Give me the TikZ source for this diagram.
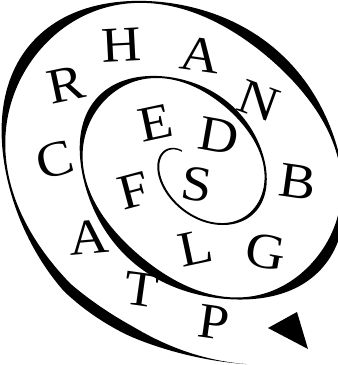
\documentclass[tikz,border=0pt]{standalone}
\usepackage{fontspec}
\setmainfont{Liberation Serif}[FakeStretch=1.1]

\begin{document}
\begin{tikzpicture}[
        x=1pt, y=1pt,
        letter/.style={font=\fontsize{50}{50}\selectfont, inner sep=0pt},
        declare function={
            ra(\t)=13.37*\t-11.5;
            rb(\t)=10.95*\t-16-20*max(0,\t-17.2);
            wd(\t)=min(1,(18.1-\t)/0.55)*(2+min(9,max(0,1.3*(\t-5.4)))*((1+cos(deg(4*(\t-0.1))))/2));
        }
    ]
    \useasboundingbox (0,0) rectangle (338,365);

    % Spiral
    \begin{scope}[shift={(192.8,196)}, rotate=-41]
        \fill plot[domain=2.6:18.1, samples=500, variable=\t]
            ({(ra(\t)+wd(\t)/2)*cos(deg(\t))}, {(rb(\t)+wd(\t)/2)*sin(deg(\t))})
            -- plot[domain=18.1:2.6, samples=500, variable=\t]
            ({(ra(\t)-wd(\t)/2)*cos(deg(\t))}, {(rb(\t)-wd(\t)/2)*sin(deg(\t))})
            -- cycle;
    \end{scope}

    % Letters
    \node[letter, rotate=3] (h) at (121.5,320) {H};
    \node[letter, rotate=-8] (a1) at (200,310) {A};
    \node[letter, rotate=-20] (n) at (259,264) {N};
    \node[letter, rotate=12] (r) at (66,280) {R};
    \node[letter, rotate=12] (e) at (156,242) {E};
    \node[letter, rotate=-10] (d) at (219,229) {D};
    \node[letter, rotate=15] (c) at (55,205) {C};
    \node[letter, rotate=-8] (s) at (197,181) {S};
    \node[letter, rotate=-8] (b) at (298,183) {B};
    \node[letter, rotate=15] (f) at (134,174) {F};
    \node[letter, rotate=5] (a2) at (89,128) {A};
    \node[letter, rotate=12] (l) at (196,117) {L};
    \node[letter, rotate=-10] (g) at (266,113) {G};
    \node[letter, rotate=-8] (t) at (141,75) {T};
    \node[letter, rotate=-8] (p) at (214,43) {P};

    % Pointer
    \fill (268,37) -- (297,53) -- (308,16) -- cycle;
\end{tikzpicture}
\end{document}
